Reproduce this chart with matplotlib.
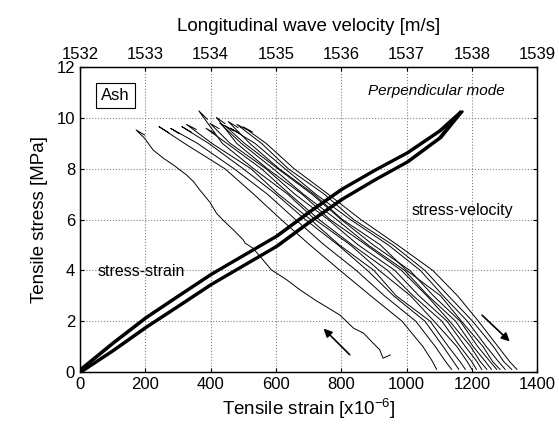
import matplotlib
matplotlib.use("Agg")
import matplotlib.pyplot as plt

plt.rcParams["font.family"] = ["Liberation Sans", "DejaVu Sans"]
plt.rcParams["mathtext.default"] = "regular"

# stress-strain loop (bottom axis, strain in 1e-6)
strain = [0, 100, 200, 300, 400, 500, 600, 700, 800, 900, 1000, 1100, 1165]
stress_unload = [0.10, 1.15, 2.14, 3.00, 3.85, 4.60, 5.35, 6.30, 7.20, 7.94, 8.63, 9.50, 10.25]
stress_load = [0.00, 0.85, 1.76, 2.60, 3.45, 4.20, 4.95, 5.90, 6.80, 7.56, 8.27, 9.22, 10.25]
cycle_shift = [0, 6]

# stress-velocity (top axis), first cycle drawn separately
first_v = [1532.99, 1532.86, 1532.99, 1533.12, 1533.28, 1533.43, 1533.63, 1533.74, 1533.84,
           1533.99, 1534.09, 1534.19, 1534.35, 1534.50, 1534.53, 1534.65, 1534.78, 1534.93,
           1535.17, 1535.37, 1535.62, 1535.98, 1536.19, 1536.34, 1536.49, 1536.59, 1536.64, 1536.75]
first_s = [9.33, 9.53, 9.20, 8.74, 8.41, 8.15, 7.76, 7.49, 7.15,
           6.68, 6.25, 5.98, 5.59, 5.20, 5.07, 4.87, 4.48, 4.02,
           3.62, 3.23, 2.80, 2.24, 1.72, 1.53, 1.13, 0.87, 0.54, 0.67]

# later cycles: velocity read at fixed stress levels
levels = [9, 8, 7, 6, 5, 4, 3, 2, 1, 0.4, 0.1]
tip_v = [1533.21, 1533.39, 1533.56, 1533.63, 1533.82, 1533.93, 1533.99,
         1534.09, 1534.14, 1534.22, 1534.27, 1534.30, 1534.40, 1534.50]
tip_s = [9.66, 9.59, 9.66, 9.75, 10.28, 9.59, 9.79,
         10.02, 9.80, 9.70, 9.86, 9.60, 9.75, 9.65]
hook_v = [1533.36, 1533.52, 1533.70, 1533.78, 1533.95, 1534.06, 1534.13,
          1534.22, 1534.28, 1534.35, 1534.42, 1534.44, 1534.55, 1534.64]
hook_s = [9.42, 9.38, 9.45, 9.55, 9.95, 9.40, 9.58,
          9.78, 9.60, 9.50, 9.62, 9.40, 9.55, 9.45]
vel = [
    [1533.60, 1534.22, 1534.66, 1535.08, 1535.52, 1535.98, 1536.45, 1536.93, 1537.25, 1537.40, 1537.46],
    [1533.80, 1534.36, 1534.87, 1535.30, 1535.74, 1536.23, 1536.66, 1537.14, 1537.44, 1537.60, 1537.69],
    [1533.97, 1534.50, 1535.00, 1535.45, 1535.95, 1536.40, 1536.80, 1537.28, 1537.56, 1537.72, 1537.80],
    [1534.02, 1534.62, 1535.04, 1535.53, 1535.97, 1536.50, 1536.84, 1537.36, 1537.64, 1537.82, 1537.90],
    [1534.18, 1534.66, 1535.18, 1535.60, 1536.14, 1536.58, 1537.06, 1537.42, 1537.77, 1537.93, 1538.00],
    [1534.25, 1534.78, 1535.21, 1535.66, 1536.17, 1536.71, 1537.10, 1537.54, 1537.82, 1538.00, 1538.07],
    [1534.30, 1534.85, 1535.29, 1535.80, 1536.26, 1536.82, 1537.19, 1537.62, 1537.90, 1538.08, 1538.15],
    [1534.40, 1534.87, 1535.40, 1535.83, 1536.38, 1536.92, 1537.31, 1537.66, 1537.98, 1538.13, 1538.23],
    [1534.47, 1534.96, 1535.42, 1535.93, 1536.41, 1536.97, 1537.33, 1537.75, 1538.02, 1538.21, 1538.30],
    [1534.52, 1535.03, 1535.55, 1536.00, 1536.49, 1537.05, 1537.41, 1537.82, 1538.09, 1538.28, 1538.38],
    [1534.60, 1535.05, 1535.58, 1536.02, 1536.60, 1537.00, 1537.52, 1537.84, 1538.17, 1538.32, 1538.43],
    [1534.68, 1535.14, 1535.61, 1536.14, 1536.72, 1537.21, 1537.56, 1537.93, 1538.22, 1538.41, 1538.51],
    [1534.78, 1535.19, 1535.74, 1536.19, 1536.79, 1537.28, 1537.64, 1538.01, 1538.33, 1538.49, 1538.61],
    [1534.85, 1535.28, 1535.80, 1536.30, 1536.86, 1537.40, 1537.78, 1538.10, 1538.40, 1538.58, 1538.69],
]

fig = plt.figure(figsize=(5.59, 4.28), dpi=100)
ax = fig.add_axes([0.143, 0.131, 0.818, 0.712])

# stress-strain band
for sh in cycle_shift:
    ax.plot([e + sh for e in strain], stress_unload, color="black", lw=1.7, solid_capstyle="round")
    ax.plot([e + sh for e in strain], stress_load, color="black", lw=1.7, solid_capstyle="round")

ax.set_xlim(0, 1400)
ax.set_ylim(0, 12)
ax.set_xticks(range(0, 1401, 200))
ax.set_yticks(range(0, 13, 2))
ax.grid(True, linestyle=":", color="0.5", lw=0.8)
ax.tick_params(direction="in", length=3, labelsize=12, top=False, right=True)
ax.set_xlabel("Tensile strain [x10$^{-6}$]", fontsize=13.5, labelpad=4)
ax.set_ylabel("Tensile stress [MPa]", fontsize=13.5, labelpad=6)

# top axis: velocity
ax2 = ax.twiny()
ax2.set_xlim(1532, 1539)
ax2.set_xticks(range(1532, 1540))
ax2.tick_params(direction="in", length=3, labelsize=12)
ax2.set_xlabel("Longitudinal wave velocity [m/s]", fontsize=13.5, labelpad=12)

ax2.plot(first_v, first_s, color="black", lw=0.7)
for i in range(len(vel)):
    xs = [hook_v[i], tip_v[i]] + vel[i]
    ys = [hook_s[i], tip_s[i]] + levels
    ax2.plot(xs, ys, color="black", lw=0.7)

for a in (ax, ax2):
    for sp in a.spines.values():
        sp.set_linewidth(0.9)

# annotations
ax.text(109, 10.89, "Ash", fontsize=12, ha="center", va="center",
        bbox=dict(boxstyle="square,pad=0.3", fc="white", ec="black", lw=0.8))
ax.text(1092, 11.07, "Perpendicular mode", fontsize=11, style="italic", ha="center", va="center")
ax.text(1171, 6.34, "stress-velocity", fontsize=11.5, ha="center", va="center")
ax.text(187, 3.95, "stress-strain", fontsize=11.5, ha="center", va="center")

ax.annotate("", xy=(740, 1.78), xytext=(832, 0.60),
            arrowprops=dict(arrowstyle="-|>", color="black", lw=1.2, mutation_scale=12))
ax.annotate("", xy=(1322, 1.13), xytext=(1225, 2.31),
            arrowprops=dict(arrowstyle="-|>", color="black", lw=1.2, mutation_scale=12))

fig.savefig("out.png", dpi=100)
